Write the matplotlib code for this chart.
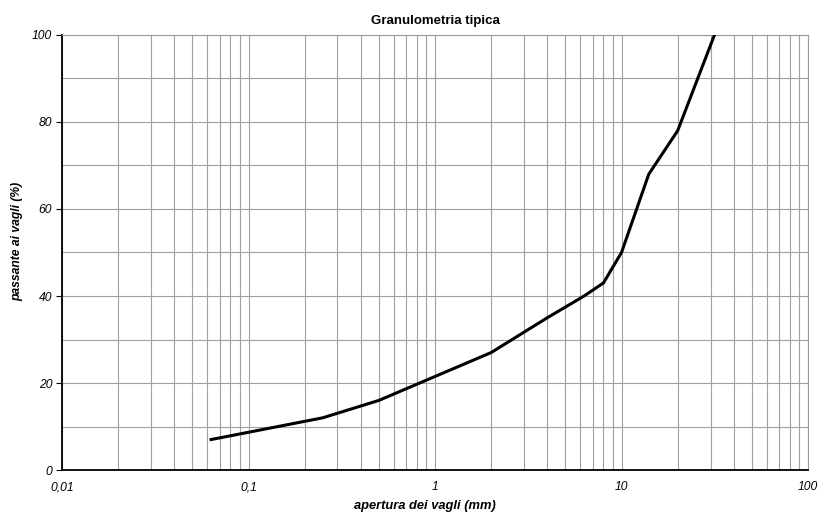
import numpy as np
import matplotlib.pyplot as plt
from matplotlib.ticker import FixedLocator, NullFormatter

plt.rcParams['font.family'] = ['Liberation Sans', 'DejaVu Sans']

# sieve opening (mm) and percent passing
apertura = [0.063, 0.25, 0.5, 2, 4, 6.3, 8, 10, 14, 20, 31.5]
passante = [7, 12, 16, 27, 35, 40, 43, 50, 68, 78, 100]

xticks = [0.01, 0.1, 1, 10, 100]
xticklabels = ['0,01', '0,1', '1', '10', '100']
yticks = [0, 20, 40, 60, 80, 100]

fig = plt.figure(figsize=(8.19, 5.13), dpi=100)
ax = fig.add_axes([0.0757, 0.0838, 0.9109, 0.848])

ax.set_xscale('log')
ax.set_xlim(0.01, 100)
ax.set_ylim(0, 100)

# grid: every log subdivision in x, every 10 in y
minors = [m * 10.0**e for e in range(-2, 2) for m in range(2, 10)]
ax.xaxis.set_major_locator(FixedLocator(xticks))
ax.xaxis.set_minor_locator(FixedLocator(minors))
ax.xaxis.set_minor_formatter(NullFormatter())
ax.set_xticks(xticks)
ax.set_xticklabels(xticklabels)
ax.set_yticks(yticks)
ax.yaxis.set_minor_locator(FixedLocator(range(10, 100, 20)))

ax.grid(True, which='both', color='#a0a0a0', linewidth=0.8)
ax.set_axisbelow(True)

ax.plot(apertura, passante, color='black', linewidth=2.2, zorder=3)

for s in ['top', 'right']:
    ax.spines[s].set_color('#9a9a9a')
    ax.spines[s].set_linewidth(0.8)
for s in ['left', 'bottom']:
    ax.spines[s].set_color('black')
    ax.spines[s].set_linewidth(1.3)

ax.tick_params(axis='x', which='both', length=0, pad=8, labelsize=8.7)
ax.tick_params(axis='y', which='major', length=4, width=0.8, pad=3, labelsize=8.7)
ax.tick_params(axis='y', which='minor', length=0)
for lbl in ax.get_xticklabels() + ax.get_yticklabels():
    lbl.set_fontstyle('italic')

ax.set_title('Granulometria tipica', fontsize=9.5, fontweight='bold', pad=8)
ax.set_xlabel('apertura dei vagli (mm)', fontsize=9.3, fontweight='bold',
              fontstyle='italic')
ax.set_ylabel('passante ai vagli (%)', fontsize=8.7, fontweight='bold',
              fontstyle='italic')
ax.xaxis.set_label_coords(0.487, -0.068)
ax.yaxis.set_label_coords(-0.052, 0.526)

fig.savefig('out.png', dpi=100)
